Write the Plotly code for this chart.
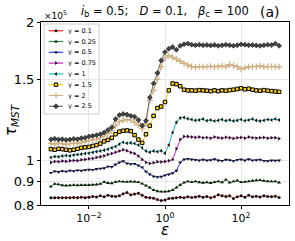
import plotly.graph_objects as go

EPS = [1e-3, 1.259e-3, 1.585e-3, 1.995e-3, 2.512e-3, 3.162e-3, 3.981e-3, 5.012e-3, 6.310e-3, 7.943e-3,
       1e-2, 1.259e-2, 1.585e-2, 1.995e-2, 2.512e-2, 3.162e-2, 3.981e-2, 5.012e-2, 6.310e-2, 7.943e-2,
       1e-1, 1.259e-1, 1.585e-1, 1.995e-1, 2.512e-1, 3.162e-1, 3.981e-1, 5.012e-1, 6.310e-1, 7.943e-1,
       1.0, 1.259, 1.585, 1.995, 2.512, 3.162, 3.981, 5.012, 6.310, 7.943,
       10.0, 12.59, 15.85, 19.95, 25.12, 31.62, 39.81, 50.12, 63.10, 79.43,
       100.0, 125.9, 158.5, 199.5, 251.2, 316.2, 398.1, 501.2, 631.0, 794.3, 1000.0]

GAMMA_LABELS = ["γ = 0.1", "γ = 0.25", "γ = 0.5", "γ = 0.75", "γ = 1", "γ = 1.5", "γ = 2", "γ = 2.5"]

TAU_G010 = [0.830, 0.830, 0.830, 0.830, 0.830, 0.830, 0.831, 0.830, 0.832, 0.830,
            0.832, 0.835, 0.833, 0.838, 0.834, 0.840, 0.836, 0.835, 0.838, 0.846,
            0.852, 0.842, 0.845, 0.848, 0.840, 0.832, 0.830, 0.828, 0.822, 0.818,
            0.820, 0.826, 0.828, 0.830, 0.832, 0.830, 0.834, 0.831, 0.833, 0.836,
            0.832, 0.835, 0.830, 0.834, 0.842, 0.838, 0.835, 0.838, 0.826, 0.834,
            0.838, 0.832, 0.840, 0.834, 0.836, 0.833, 0.838, 0.835, 0.834, 0.836, 0.831]
TAU_G025 = [0.877, 0.889, 0.887, 0.883, 0.882, 0.883, 0.884, 0.883, 0.884, 0.884,
            0.884, 0.885, 0.886, 0.889, 0.898, 0.893, 0.892, 0.898, 0.900, 0.899,
            0.898, 0.900, 0.899, 0.897, 0.890, 0.882, 0.873, 0.862, 0.857, 0.855,
            0.855, 0.857, 0.862, 0.873, 0.885, 0.895, 0.900, 0.897, 0.900, 0.896,
            0.894, 0.896, 0.893, 0.897, 0.900, 0.896, 0.908, 0.895, 0.900, 0.904,
            0.897, 0.898, 0.900, 0.903, 0.905, 0.906, 0.903, 0.900, 0.900, 0.900, 0.895]
TAU_G050 = [0.940, 0.947, 0.944, 0.948, 0.946, 0.950, 0.948, 0.952, 0.950, 0.953,
            0.955, 0.954, 0.958, 0.960, 0.962, 0.970, 0.968, 0.980, 0.990, 0.996,
            0.985, 0.982, 0.983, 0.975, 0.966, 0.945, 0.932, 0.923, 0.920, 0.922,
            0.928, 0.932, 0.938, 0.950, 0.990, 1.005, 1.008, 1.005, 1.003, 1.000,
            1.004, 1.000, 1.002, 1.006, 1.000, 0.998, 1.004, 1.002, 0.997, 1.003,
            1.005, 1.000, 1.006, 1.000, 1.002, 1.004, 0.998, 0.997, 1.000, 0.999, 1.000]
TAU_G075 = [0.990, 0.995, 0.993, 0.997, 0.995, 0.998, 1.000, 0.999, 1.003, 1.005,
            1.008, 1.010, 1.015, 1.018, 1.022, 1.030, 1.035, 1.042, 1.048, 1.055,
            1.050, 1.040, 1.035, 1.022, 1.005, 0.990, 0.985, 0.988, 0.993, 0.992,
            0.995, 0.998, 1.005, 1.060, 1.110, 1.127, 1.128, 1.125, 1.122, 1.125,
            1.120, 1.122, 1.118, 1.125, 1.120, 1.118, 1.123, 1.120, 1.116, 1.120,
            1.122, 1.118, 1.125, 1.120, 1.118, 1.120, 1.122, 1.118, 1.120, 1.120, 1.115]
TAU_G100 = [1.015, 1.020, 1.018, 1.022, 1.025, 1.023, 1.028, 1.030, 1.032, 1.035,
            1.037, 1.040, 1.045, 1.048, 1.052, 1.058, 1.065, 1.072, 1.085, 1.095,
            1.090, 1.092, 1.088, 1.080, 1.065, 1.048, 1.042, 1.048, 1.045, 1.050,
            1.037, 1.080, 1.150, 1.210, 1.237, 1.240, 1.232, 1.228, 1.222, 1.225,
            1.230, 1.220, 1.225, 1.218, 1.222, 1.228, 1.220, 1.225, 1.218, 1.222,
            1.228, 1.220, 1.225, 1.230, 1.222, 1.218, 1.222, 1.228, 1.225, 1.230, 1.225]
TAU_G150 = [1.058, 1.055, 1.060, 1.058, 1.055, 1.052, 1.055, 1.060, 1.065, 1.068,
            1.070, 1.075, 1.080, 1.088, 1.100, 1.108, 1.120, 1.140, 1.155, 1.160,
            1.162, 1.158, 1.135, 1.110, 1.092, 1.140, 1.190, 1.250, 1.300, 1.310,
            1.340, 1.420, 1.470, 1.465, 1.450, 1.425, 1.420, 1.420, 1.418, 1.422,
            1.420, 1.418, 1.415, 1.420, 1.415, 1.420, 1.418, 1.422, 1.425, 1.430,
            1.435, 1.428, 1.432, 1.425, 1.420, 1.418, 1.422, 1.418, 1.415, 1.412, 1.410]
TAU_G200 = [1.089, 1.085, 1.090, 1.088, 1.082, 1.087, 1.090, 1.088, 1.095, 1.100,
            1.105, 1.108, 1.112, 1.120, 1.130, 1.145, 1.160, 1.190, 1.215, 1.222,
            1.227, 1.225, 1.210, 1.195, 1.172, 1.200, 1.350, 1.420, 1.500, 1.600,
            1.670, 1.690, 1.675, 1.660, 1.645, 1.625, 1.612, 1.600, 1.595, 1.600,
            1.598, 1.600, 1.602, 1.598, 1.600, 1.605, 1.600, 1.615, 1.608, 1.600,
            1.580, 1.590, 1.598, 1.600, 1.602, 1.605, 1.598, 1.600, 1.602, 1.600, 1.598]
TAU_G250 = [1.111, 1.115, 1.110, 1.112, 1.108, 1.110, 1.114, 1.112, 1.118, 1.120,
            1.128, 1.130, 1.135, 1.140, 1.150, 1.165, 1.180, 1.230, 1.255, 1.262,
            1.258, 1.250, 1.245, 1.225, 1.190, 1.220, 1.370, 1.470, 1.550, 1.650,
            1.720, 1.750, 1.765, 1.740, 1.775, 1.790, 1.795, 1.785, 1.780, 1.785,
            1.780, 1.782, 1.778, 1.782, 1.775, 1.780, 1.785, 1.780, 1.776, 1.780,
            1.788, 1.785, 1.780, 1.782, 1.778, 1.775, 1.780, 1.785, 1.782, 1.795, 1.775]

SERIES = [TAU_G010, TAU_G025, TAU_G050, TAU_G075, TAU_G100, TAU_G150, TAU_G200, TAU_G250]

Y_TICKS = [0.8, 0.9, 1.0, 1.5, 2.0]
Y_TICKTEXT = ["0.8", "0.9", "1", "1.5", "2"]
X_TICKS = [1e-2, 1.0, 1e2]
X_TICKTEXT = ["10<sup>−2</sup>", "10<sup>0</sup>", "10<sup>2</sup>"]

LINE_COLORS = ["#ff1a1a", "#2a9a2a", "#2a3cff", "#d21fd2", "#14bcbc", "#ffd400", "#cfae80", "#707070"]
SYMBOLS = ["circle", "triangle-up", "triangle-down", "triangle-right", "triangle-left",
           "square-open", "cross-thin-open", "diamond"]
SIZES = [3, 3.5, 3.5, 3.5, 3.5, 3.5, 4.5, 3.8]

FONT = "DejaVu Sans"
W, H = 295, 241
L, R, T, B = 41, 6, 22, 36
PW, PH = W - L - R, H - T - B


def px2x(px):
    return (px - L) / PW


def px2y(py):
    return (H - B - py) / PH


def marker_for(i):
    if SYMBOLS[i] == "square-open":
        return dict(symbol="square", size=SIZES[i], color=LINE_COLORS[i], line=dict(color="black", width=1))
    if SYMBOLS[i] == "cross-thin-open":
        return dict(symbol="cross-thin-open", size=SIZES[i], line=dict(color="#222", width=1.2))
    if SYMBOLS[i] == "diamond":
        return dict(symbol="diamond", size=SIZES[i], color="#444", line=dict(color="#111", width=0.6))
    return dict(symbol=SYMBOLS[i], size=SIZES[i], color="#111", line=dict(width=0))


fig = go.Figure()
for i, ys in enumerate(SERIES):
    fig.add_trace(go.Scatter(x=EPS, y=ys, mode="lines+markers", name=GAMMA_LABELS[i],
                             line=dict(color=LINE_COLORS[i], width=1), marker=marker_for(i),
                             showlegend=False))

# custom compact legend on an overlay axis
LEG_TOP, LEG_DY = 30.7, 10.8
annotations = []
for i, lab in enumerate(GAMMA_LABELS):
    yc = px2y(LEG_TOP + LEG_DY * i)
    m = marker_for(i)
    fig.add_trace(go.Scatter(x=[px2x(49), px2x(56), px2x(63)], y=[yc, yc, yc], xaxis="x2", yaxis="y2",
                             mode="lines+markers", line=dict(color=LINE_COLORS[i], width=1.2),
                             marker=dict(m, opacity=[0, 1, 0]), showlegend=False, hoverinfo="skip"))
    annotations.append(dict(x=px2x(66), y=yc, xref="x2", yref="y2", text=lab, showarrow=False,
                            xanchor="left", yanchor="middle", font=dict(family=FONT, size=6.5, color="black")))

shapes = [dict(type="rect", xref="x2", yref="y2", x0=px2x(44), x1=px2x(99), y0=px2y(24), y1=px2y(114),
               line=dict(color="#cccccc", width=1), fillcolor="rgba(255,255,255,0.9)", layer="below")]

annotations += [
    dict(x=0.5, y=px2y(12), xref="paper", yref="paper", showarrow=False, xanchor="center", yanchor="middle",
         text="<i>i</i><sub>b</sub> = 0.5;&nbsp;&nbsp; <i>D</i> = 0.1,&nbsp;&nbsp; <i>β</i><sub>c</sub> = 100",
         font=dict(family=FONT, size=11.5, color="black")),
    dict(x=px2x(270), y=px2y(12), xref="paper", yref="paper", showarrow=False, xanchor="center",
         yanchor="middle", text="(a)", font=dict(family=FONT, size=14, color="black")),
    dict(x=px2x(42), y=px2y(15), xref="paper", yref="paper", showarrow=False, xanchor="left",
         yanchor="middle", text="×10<sup>5</sup>", font=dict(family=FONT, size=9, color="black")),
    dict(x=px2x(12), y=px2y(120), xref="paper", yref="paper", showarrow=False, xanchor="center",
         yanchor="middle", textangle=-90, text="<i>τ</i><sub><i>MST</i></sub>",
         font=dict(family=FONT, size=15, color="black")),
    dict(x=0.5, y=px2y(230), xref="paper", yref="paper", showarrow=False, xanchor="center",
         yanchor="middle", text="<i>ε</i>", font=dict(family=FONT, size=15, color="black")),
]

fig.update_layout(
    template="none",
    width=W, height=H, margin=dict(l=L, r=R, t=T, b=B, pad=0, autoexpand=False),
    paper_bgcolor="white", plot_bgcolor="white",
    font=dict(family=FONT, size=12, color="black"),
    xaxis=dict(type="log", range=[-3.26, 3.26], tickvals=X_TICKS, ticktext=X_TICKTEXT, automargin=False,
               showgrid=True, gridcolor="#e6e6e6", gridwidth=1, zeroline=False,
               showline=True, linecolor="black", linewidth=1, mirror=True,
               ticks="outside", ticklen=3, tickcolor="black", tickfont=dict(size=11)),
    yaxis=dict(type="log", range=[-0.09691, 0.30103], tickvals=Y_TICKS, ticktext=Y_TICKTEXT, automargin=False,
               showgrid=True, gridcolor="#e6e6e6", gridwidth=1, zeroline=False,
               showline=True, linecolor="black", linewidth=1, mirror=True,
               ticks="outside", ticklen=3, tickcolor="black", tickfont=dict(size=13)),
    xaxis2=dict(overlaying="x", range=[0, 1], visible=False, fixedrange=True, automargin=False),
    yaxis2=dict(overlaying="y", range=[0, 1], visible=False, fixedrange=True, automargin=False),
    annotations=annotations, shapes=shapes, showlegend=False,
)

fig.write_html("out.html", config={"displayModeBar": False, "staticPlot": True},
               post_script="document.body.style.margin='0';document.body.style.overflow='hidden';")
